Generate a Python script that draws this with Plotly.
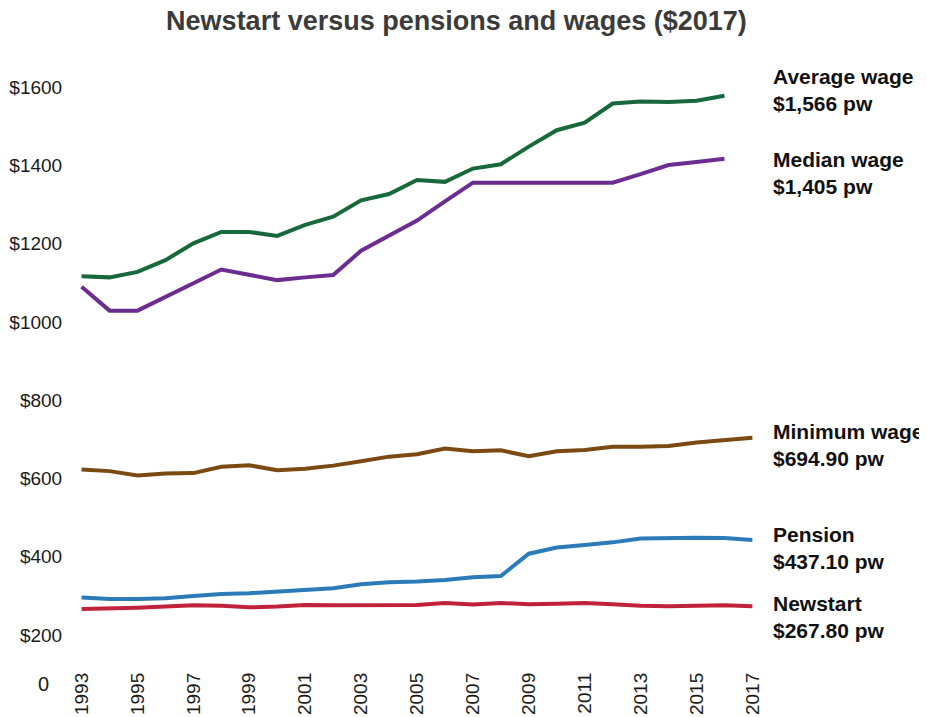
import plotly.graph_objects as go

# Weekly amounts in 2017 dollars
years = list(range(1993, 2018))

average_wage = [1117, 1114, 1128, 1158, 1201, 1230, 1230, 1220, 1248, 1269,
                1311, 1327, 1363, 1358, 1392, 1403, 1448, 1490, 1509, 1558,
                1563, 1562, 1565, 1578]
median_wage = [1090, 1029, 1029, 1063, 1099, 1134, 1120, 1107, 1114, 1120,
               1182, 1220, 1259, 1308, 1356, 1356, 1356, 1356, 1356, 1356,
               1378, 1401, 1409, 1417]
minimum_wage = [623, 619, 608, 613, 614, 630, 634, 621, 625, 633,
                644, 656, 662, 677, 670, 672, 657, 670, 673, 681,
                681, 683, 692, 698, 704]
pension = [296, 292, 292, 294, 300, 305, 307, 311, 316, 320,
           330, 335, 337, 341, 348, 351, 408, 424, 430, 437,
           447, 449, 449, 448, 443]
newstart = [267, 268, 270, 273, 276, 275, 271, 273, 277, 276,
            277, 278, 277, 282, 278, 282, 279, 280, 282, 279,
            275, 274, 275, 276, 274]

series_names = ["Average wage", "Median wage", "Minimum wage", "Pension", "Newstart"]
series_values = [average_wage, median_wage, minimum_wage, pension, newstart]
end_labels = ["$1,566 pw", "$1,405 pw", "$694.90 pw", "$437.10 pw", "$267.80 pw"]
colors = ["#17693b", "#6b2d8f", "#7a4a12", "#2b7bb9", "#c0223b"]
label_pos = [0.933, 0.799, 0.359, 0.194, 0.083]  # paper y of the right-hand labels

ytick_vals = [200, 400, 600, 800, 1000, 1200, 1400, 1600]
ytick_text = ["$" + str(v) for v in ytick_vals]
xtick_vals = list(range(1993, 2018, 2))

fig = go.Figure()
for name, vals, col in zip(series_names, series_values, colors):
    fig.add_scatter(x=years[:len(vals)], y=vals, mode="lines", name=name,
                    line=dict(color=col, width=4))

# labels at the right end of the lines
for name, lab, yp in zip(series_names, end_labels, label_pos):
    fig.add_annotation(x=1, y=yp, xref="paper", yref="paper",
                       xanchor="left", yanchor="middle", xshift=13,
                       text="<b>%s<br>%s</b>" % (name, lab), showarrow=False,
                       align="left", font=dict(size=21, color="#111111"))

# the lone "0" at the foot of the value axis
fig.add_annotation(x=-0.036, y=-0.026, xref="paper", yref="paper",
                   xanchor="right", yanchor="middle", text="0",
                   showarrow=False, font=dict(size=20, color="#1a1a1a"))

# page body adds an 8px offset, so the figure is drawn 8px smaller
fig.update_layout(
    width=919, height=709,
    margin=dict(l=68, r=169, t=40, b=49),
    paper_bgcolor="white", plot_bgcolor="white",
    showlegend=False,
    font=dict(family="Liberation Sans, Arial, sans-serif", color="#1a1a1a"),
    title=dict(text="<b>Newstart versus pensions and wages ($2017)</b>",
               x=0.488, xanchor="center", y=0.983, yanchor="middle",
               font=dict(size=27, color="#3b3b3b")),
    xaxis=dict(range=[1992.8, 2017.2], tickvals=xtick_vals, tickangle=-90,
               showgrid=False, zeroline=False, showline=False, ticks="",
               tickfont=dict(size=19), automargin=False),
    yaxis=dict(range=[116, 1700], tickvals=ytick_vals, ticktext=ytick_text,
               showgrid=False, zeroline=False, showline=False,
               ticks="outside", ticklen=9, tickcolor="rgba(0,0,0,0)",
               tickfont=dict(size=19), automargin=False),
)

fig.write_html("out.html")
